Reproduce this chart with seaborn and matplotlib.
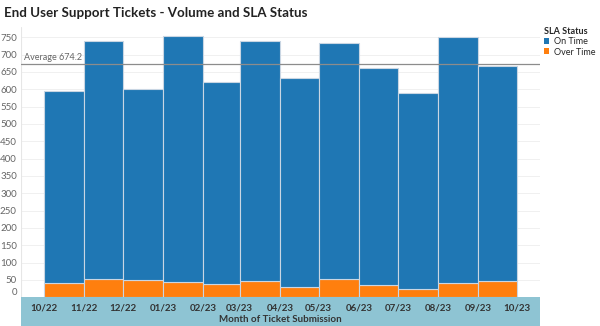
import numpy as np
import pandas as pd
import matplotlib
matplotlib.use("Agg")
import matplotlib.pyplot as plt
import matplotlib.dates as mdates
from matplotlib.patches import Rectangle, Patch
import seaborn as sns

# ---- data ----
months = ["2022-10", "2022-11", "2022-12", "2023-01", "2023-02", "2023-03",
          "2023-04", "2023-05", "2023-06", "2023-07", "2023-08", "2023-09"]
on_time = [555, 687, 551, 710, 584, 693, 605, 682, 626, 566, 711, 620]
over_time = [40, 53, 49, 45, 37, 47, 29, 53, 36, 24, 41, 46]
statuses = ["On Time", "Over Time"]
colors = {"On Time": "#1f77b4", "Over Time": "#ff7f0e"}
yticks = list(range(0, 751, 50))

sns.set_theme(style="white")
plt.rcParams["font.family"] = ["Lato", "DejaVu Sans"]

starts = pd.to_datetime([m + "-01" for m in months])
edges_dt = list(starts) + [starts[-1] + pd.offsets.MonthBegin(1)]
edges = [float(e) for e in mdates.date2num(pd.to_datetime(edges_dt).to_pydatetime())]
xnum = mdates.date2num(starts.to_pydatetime())

df = pd.DataFrame({
    "date": np.concatenate([xnum, xnum]),
    "count": on_time + over_time,
    "status": ["On Time"] * len(months) + ["Over Time"] * len(months),
})

fig = plt.figure(figsize=(6, 3.26), dpi=100)
ax = fig.add_axes([21 / 600, 0.088, (540 - 21) / 600, 0.8294])

sns.histplot(data=df, x="date", weights="count", hue="status", hue_order=statuses,
             bins=edges, multiple="stack", palette=colors, alpha=1,
             edgecolor="#c9d6e3", linewidth=0.8, legend=False, ax=ax)

span = edges[-1] - edges[0]
pad = span * 23 / 473
ax.set_xlim(edges[0] - pad, edges[-1] + pad)
ax.set_ylim(0, 780)

# grid
ax.set_yticks(yticks)
ax.grid(axis="y", color="#f0f0f0", linewidth=0.7)
ax.grid(axis="x", visible=False)
ax.set_axisbelow(True)
for s in ax.spines.values():
    s.set_visible(False)
ax.axvline(ax.get_xlim()[0], color="#e6e6e6", linewidth=0.8)

# average line
totals = np.array(on_time) + np.array(over_time)
avg = totals.mean()
ax.axhline(avg, color="#8c8c8c", linewidth=0.9, zorder=5)
ax.text(ax.get_xlim()[0] + pad * 0.12, avg + 5, f"Average {avg:.1f}", fontsize=6.5,
        color="#666666", va="bottom", ha="left", zorder=6)

# ticks
ax.set_xticks(edges)
ax.xaxis.set_major_formatter(mdates.DateFormatter("%m/%y"))
ax.tick_params(axis="x", length=3, width=0.6, color="#555555", pad=1.5,
               labelsize=7, labelcolor="#333333", direction="out")
for lbl in ax.get_xticklabels():
    lbl.set_fontweight("bold")
ax.tick_params(axis="y", length=0, pad=3, labelsize=7, labelcolor="#666666")
ylbls = ax.get_yticklabels()
ylbls[0].set_va("bottom")
ax.set_xlabel("Month of Ticket Submission", fontsize=7, fontweight="bold",
              color="#333333", labelpad=1.5)
ax.set_ylabel("")

# axis band
fig.add_artist(Rectangle((21 / 600, 0), (540 - 21) / 600, 0.088, transform=fig.transFigure,
                         facecolor="#8ec4d3", edgecolor="none", zorder=-1))

# title
fig.text(4 / 600, 1 - 13 / 326, "End User Support Tickets - Volume and SLA Status",
         fontsize=9.6, fontweight="bold", color="#222222", va="center", ha="left")

# legend
handles = [Patch(facecolor=colors[s], edgecolor="none", label=s) for s in statuses]
leg = fig.legend(handles=handles, title="SLA Status", loc="upper left",
                 bbox_to_anchor=(542 / 600, 1 - 25 / 326), frameon=False,
                 fontsize=6.5, title_fontsize=6.5, handlelength=0.6, handleheight=0.6,
                 handletextpad=0.5, labelspacing=0.15, borderaxespad=0, borderpad=0.2)
leg.get_title().set_fontweight("bold")
leg._legend_box.align = "left"

fig.savefig("out.png", dpi=100)
